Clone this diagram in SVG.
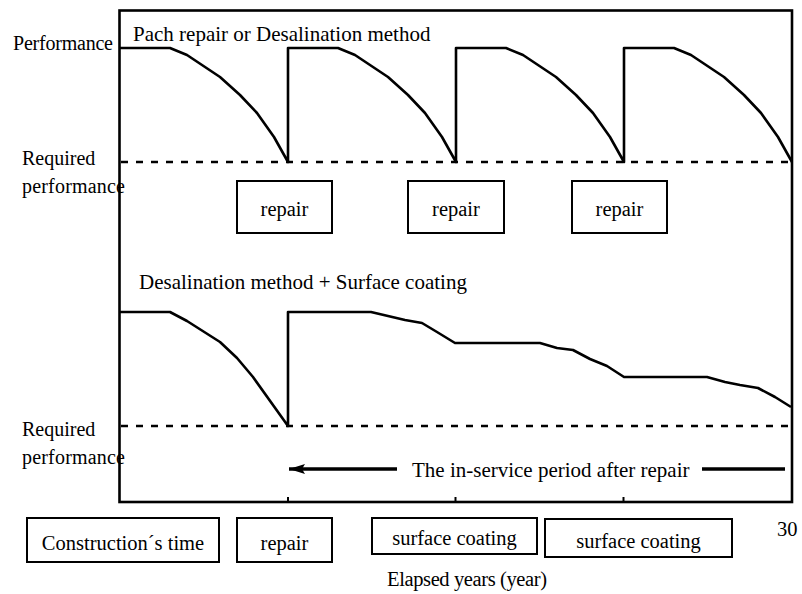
<svg xmlns="http://www.w3.org/2000/svg" width="802" height="594" viewBox="0 0 802 594">
  <style>
    text { font-family: "Liberation Serif", "Times New Roman", serif; font-size: 20.5px; fill: #000; }
    .mid { text-anchor: middle; }
    .big { font-size: 21px; }
    .side { font-size: 20px; }
    .frame { fill: none; stroke: #000; stroke-width: 2.6; stroke-linejoin: miter; }
    .curve { fill: none; stroke: #000; stroke-width: 2.6; stroke-linejoin: round; }
    .req { fill: none; stroke: #000; stroke-width: 2.6; stroke-dasharray: 7 8; }
    .box { fill: #fff; stroke: #000; stroke-width: 2; }
    .tick { stroke: #000; stroke-width: 2; }
    .period { stroke: #000; stroke-width: 3.5; fill: none; }
  </style>
  <defs>
    <marker id="head" viewBox="0 0 16 10" refX="16" refY="5" markerWidth="16" markerHeight="10" markerUnits="userSpaceOnUse" orient="auto">
      <path d="M0,0 L16,5 L0,10 L3,5 Z" fill="#000"/>
    </marker>
  </defs>

  <!-- chart frame and axis ticks -->
  <g id="frame">
    <rect class="frame" x="119.5" y="10.5" width="672.5" height="491.5"/>
    <line class="tick" x1="288" y1="497" x2="288" y2="502"/>
    <line class="tick" x1="455.5" y1="497" x2="455.5" y2="502"/>
    <line class="tick" x1="623.5" y1="497" x2="623.5" y2="502"/>
  </g>

  <!-- axis labels -->
  <g id="labels">
    <text class="side" x="13" y="50" textLength="100">Performance</text>
    <text class="side" x="22" y="165">Required</text>
    <text class="side" x="22" y="193" textLength="103">performance</text>
    <text class="side" x="22" y="436">Required</text>
    <text class="side" x="22" y="464" textLength="103">performance</text>
    <text class="big" x="133" y="41">Pach repair or Desalination method</text>
    <text class="big" x="139" y="289">Desalination method + Surface coating</text>
    <text x="777" y="536">30</text>
    <text x="387" y="586" font-size="18" textLength="160">Elapsed years (year)</text>
  </g>

  <!-- performance curves and required-level lines -->
  <g id="connectors">
    <line class="req" x1="121" y1="162" x2="792" y2="162"/>
    <line class="req" x1="121" y1="426" x2="788" y2="426"/>

    <!-- repeated patch repair cycles -->
    <polyline class="curve" points="120,48 170,48 187,55 220,77 240,95 257,113 274,137 288,162 288,48 338,48 355,55 388,77 408,95 425,113 442,137 456,162 456,48 506,48 523,55 556,77 576,95 593,113 610,137 624,162 624,48 674,48 691,55 724,77 744,95 761,113 778,137 792,162"/>

    <!-- desalination + surface coating -->
    <polyline class="curve" points="120,312 170,312 187,321 220,342 237,358 253,377 288,426 288,312 371,312 405,320 422,323 437,332 455,343 540,343 557,348 573,350 590,359 607,366 624,377 707,377 725,382 740,385 758,388 775,397 791,407"/>

    <!-- in-service period arrow -->
    <line class="period" x1="397" y1="469" x2="289" y2="469" marker-end="url(#head)"/>
    <line class="period" x1="702" y1="469" x2="785" y2="469"/>
    <text class="big" x="412" y="477">The in-service period after repair</text>
  </g>

  <!-- repair events on the top chart -->
  <g id="repair-1">
    <rect class="box" x="237" y="181" width="95" height="52"/>
    <text class="mid" x="284.5" y="216">repair</text>
  </g>
  <g id="repair-2">
    <rect class="box" x="408" y="181" width="96" height="52"/>
    <text class="mid" x="456" y="216">repair</text>
  </g>
  <g id="repair-3">
    <rect class="box" x="572" y="181" width="95" height="52"/>
    <text class="mid" x="619.5" y="216">repair</text>
  </g>

  <!-- timeline events below the axis -->
  <g id="construction">
    <rect class="box" x="27" y="518" width="192" height="44"/>
    <text class="mid" x="123" y="550">Construction´s time</text>
  </g>
  <g id="repair-time">
    <rect class="box" x="237" y="518" width="95" height="44"/>
    <text class="mid" x="284.5" y="550">repair</text>
  </g>
  <g id="coating-1">
    <rect class="box" x="372" y="518" width="165" height="36"/>
    <text class="mid" x="454.5" y="545">surface coating</text>
  </g>
  <g id="coating-2">
    <rect class="box" x="545" y="519" width="187" height="38"/>
    <text class="mid" x="638.5" y="548">surface coating</text>
  </g>
</svg>
